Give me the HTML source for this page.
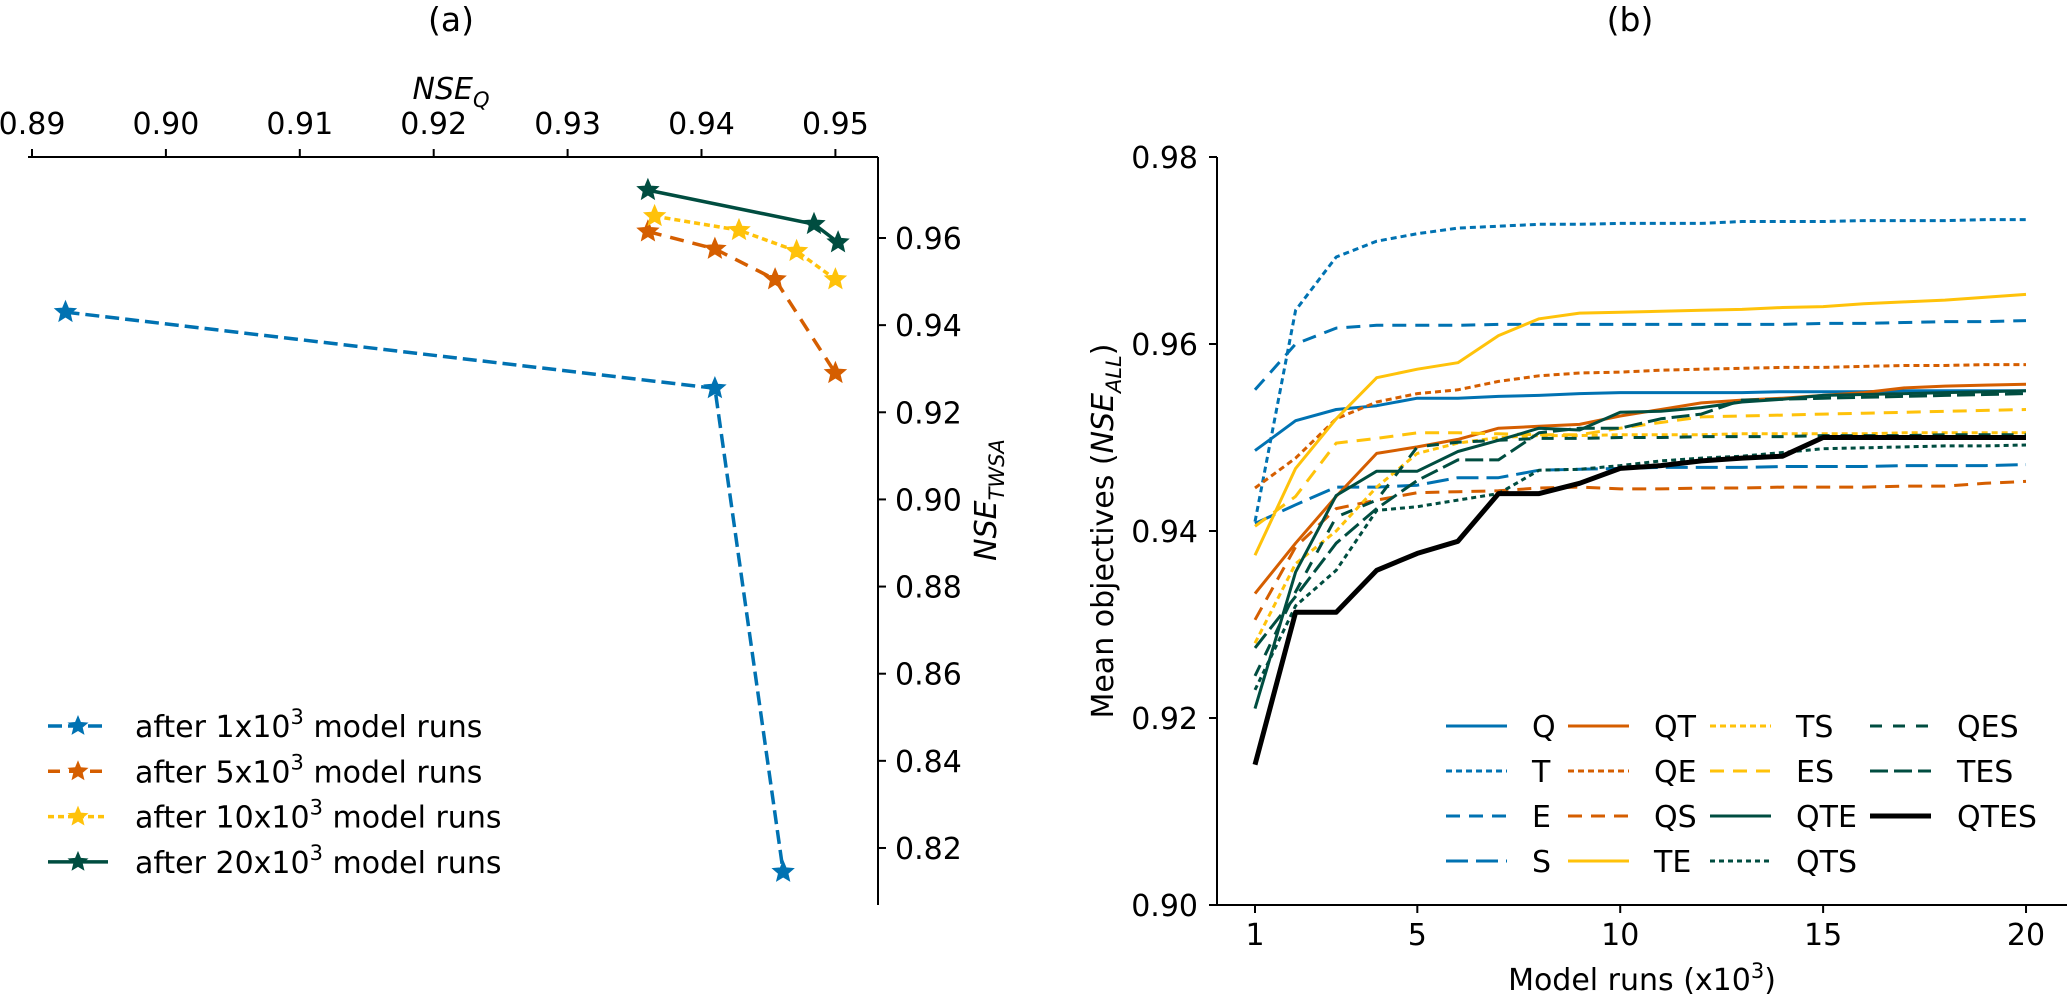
<!DOCTYPE html>
<html><head><meta charset="utf-8">
<style>
html,body{margin:0;padding:0;background:#fff;}
svg{display:block;font-family:"DejaVu Sans","Liberation Sans",sans-serif;}
</style></head>
<body>
<svg id="fig" width="2067" height="997" viewBox="0 0 2067 997" xmlns="http://www.w3.org/2000/svg">
  <g id="panelA">
    <text x="451" y="31" font-size="33" text-anchor="middle">(a)</text>
    <text x="451" y="99" font-size="30" text-anchor="middle" font-style="italic">NSE<tspan font-size="21" dy="8">Q</tspan></text>
    <g transform="translate(996,500) rotate(-90)">
      <text x="0" y="0" font-size="30" text-anchor="middle" font-style="italic">NSE<tspan font-size="21" dy="8">TWSA</tspan></text>
    </g>
  </g>
  <g id="panelB">
    <text x="1630" y="31" font-size="33" text-anchor="middle">(b)</text>
    <g transform="translate(1113,531) rotate(-90)">
      <text x="0" y="0" font-size="30" text-anchor="middle">Mean objectives (<tspan font-style="italic">NSE<tspan font-size="21" dy="8">ALL</tspan></tspan><tspan dy="-8">)</tspan></text>
    </g>
    <text x="1642" y="990" font-size="30" text-anchor="middle">Model runs (x10<tspan font-size="21" dy="-12">3</tspan><tspan dy="12">)</tspan></text>
  </g>
</svg>
<script>
// ---------- Panel (a) data ----------
const aSeriesNames = ["after 1x10", "after 5x10", "after 10x10", "after 20x10"];
const aQ1 = [0.8925, 0.9410, 0.9461];
const aT1 = [0.9430, 0.9255, 0.8145];
const aQ5 = [0.9360, 0.9410, 0.9455, 0.9500];
const aT5 = [0.9615, 0.9575, 0.9505, 0.9290];
const aQ10 = [0.9365, 0.9428, 0.9471, 0.9500];
const aT10 = [0.9650, 0.9618, 0.9570, 0.9505];
const aQ20 = [0.9360, 0.9484, 0.9502];
const aT20 = [0.9710, 0.9632, 0.9590];
const aXTicks = [0.89, 0.90, 0.91, 0.92, 0.93, 0.94, 0.95];
const aYTicks = [0.82, 0.84, 0.86, 0.88, 0.90, 0.92, 0.94, 0.96];

// ---------- Panel (b) data ----------
const bRuns = [1,2,3,4,5,6,7,8,9,10,11,12,13,14,15,16,17,18,19,20];
const bQ    = [0.9486,0.9518,0.9530,0.9534,0.9542,0.9542,0.9544,0.9545,0.9547,0.9548,0.9548,0.9548,0.9548,0.9549,0.9549,0.9549,0.9550,0.9550,0.9550,0.9550];
const bT    = [0.9410,0.9636,0.9693,0.9710,0.9718,0.9724,0.9726,0.9728,0.9728,0.9729,0.9729,0.9729,0.9731,0.9731,0.9731,0.9732,0.9732,0.9732,0.9733,0.9733];
const bE    = [0.9551,0.9600,0.9617,0.9620,0.9620,0.9620,0.9621,0.9621,0.9621,0.9621,0.9621,0.9621,0.9621,0.9621,0.9622,0.9622,0.9623,0.9624,0.9624,0.9625];
const bS    = [0.9408,0.9428,0.9447,0.9447,0.9449,0.9457,0.9457,0.9465,0.9466,0.9467,0.9468,0.9468,0.9468,0.9469,0.9469,0.9469,0.9470,0.9470,0.9470,0.9471];
const bQT   = [0.9333,0.9387,0.9437,0.9483,0.9490,0.9498,0.9510,0.9512,0.9514,0.9523,0.9530,0.9537,0.9540,0.9542,0.9545,0.9548,0.9553,0.9555,0.9556,0.9557];
const bQE   = [0.9446,0.9478,0.9520,0.9538,0.9547,0.9551,0.9560,0.9566,0.9569,0.9570,0.9572,0.9573,0.9574,0.9575,0.9575,0.9576,0.9577,0.9577,0.9578,0.9578];
const bQS   = [0.9305,0.9383,0.9424,0.9433,0.9441,0.9442,0.9443,0.9446,0.9447,0.9445,0.9445,0.9446,0.9446,0.9447,0.9447,0.9447,0.9448,0.9448,0.9451,0.9453];
const bTE   = [0.9374,0.9467,0.9520,0.9564,0.9573,0.9580,0.9609,0.9627,0.9633,0.9634,0.9635,0.9636,0.9637,0.9639,0.9640,0.9643,0.9645,0.9647,0.9650,0.9653];
const bTS   = [0.9280,0.9365,0.9400,0.9447,0.9483,0.9494,0.9500,0.9502,0.9502,0.9503,0.9503,0.9503,0.9504,0.9504,0.9504,0.9504,0.9505,0.9505,0.9505,0.9505];
const bES   = [0.9405,0.9437,0.9494,0.9499,0.9505,0.9505,0.9504,0.9503,0.9503,0.9510,0.9516,0.9522,0.9523,0.9524,0.9525,0.9526,0.9527,0.9528,0.9529,0.9530];
const bQTE  = [0.9210,0.9356,0.9438,0.9464,0.9464,0.9485,0.9497,0.9510,0.9508,0.9527,0.9528,0.9532,0.9538,0.9541,0.9545,0.9546,0.9547,0.9548,0.9549,0.9550];
const bQTS  = [0.9230,0.9320,0.9358,0.9422,0.9426,0.9433,0.9440,0.9465,0.9466,0.9470,0.9475,0.9478,0.9480,0.9484,0.9488,0.9489,0.9490,0.9491,0.9491,0.9492];
const bQES  = [0.9245,0.9335,0.9415,0.9433,0.9490,0.9495,0.9497,0.9499,0.9499,0.9500,0.9500,0.9501,0.9501,0.9501,0.9502,0.9502,0.9502,0.9503,0.9503,0.9503];
const bTES  = [0.9275,0.9330,0.9387,0.9424,0.9454,0.9476,0.9476,0.9505,0.9510,0.9510,0.9520,0.9525,0.9540,0.9541,0.9542,0.9543,0.9544,0.9545,0.9546,0.9547];
const bQTES = [0.9150,0.9313,0.9313,0.9358,0.9376,0.9389,0.9440,0.9440,0.9451,0.9467,0.9470,0.9475,0.9478,0.9480,0.9500,0.9500,0.9500,0.9500,0.9500,0.9500];
const bXTicks = [1, 5, 10, 15, 20];
const bYTicks = [0.90, 0.92, 0.94, 0.96, 0.98];

const NS = "http://www.w3.org/2000/svg";
const pA = document.getElementById("panelA");
const pB = document.getElementById("panelB");
function mk(tag, attrs, parent) {
  const e = document.createElementNS(NS, tag);
  for (const k in attrs) e.setAttribute(k, attrs[k]);
  parent.appendChild(e);
  return e;
}

// ---------- Panel (a) axes ----------
const axL = 28, axR = 878, axT = 157, axB = 905;
function ax(v) { return 32 + (v - 0.89) * 13390; }
function ay(v) { return 238 + (0.96 - v) * 4357; }

const aTop = mk("line", {x1: axL, y1: axT, x2: axR, y2: axT, stroke: "#000", "stroke-width": 2}, pA);


const aRight = mk("line", {x1: axR, y1: axT, x2: axR, y2: axB, stroke: "#000", "stroke-width": 2}, pA);



aXTicks.forEach(v => {
  const x = ax(v);
  const t = mk("line", {x1: x, y1: axT, x2: x, y2: axT - 8, stroke: "#000", "stroke-width": 2}, pA);
  
  
  const l = mk("text", {x: x, y: 134, "font-size": 30, "text-anchor": "middle"}, pA);
  l.textContent = v.toFixed(2);
  
  
});
aYTicks.forEach(v => {
  const y = ay(v);
  const t = mk("line", {x1: axR, y1: y, x2: axR + 8, y2: y, stroke: "#000", "stroke-width": 2}, pA);
  
  
  const l = mk("text", {x: 895, y: y + 11, "font-size": 30}, pA);
  l.textContent = v.toFixed(2);
  
  
});

function starPts(cx, cy, R) {
  const r = R * 0.45, pts = [];
  for (let i = 0; i < 10; i++) {
    const ang = -Math.PI / 2 + i * Math.PI / 5;
    const rr = i % 2 ? r : R;
    pts.push((cx + rr * Math.cos(ang)).toFixed(1) + "," + (cy + rr * Math.sin(ang)).toFixed(1));
  }
  return pts.join(" ");
}

const aSeries = [
  {q: aQ1, t: aT1, color: "#0072B2", dash: "14 6", ldash: "14 6", name: "1x10"},
  {q: aQ5, t: aT5, color: "#D55E00", dash: "14 9", ldash: "12 9", name: "5x10"},
  {q: aQ10, t: aT10, color: "#FFC20A", dash: "6 4", ldash: "6 4", name: "10x10"},
  {q: aQ20, t: aT20, color: "#004D40", dash: "none", ldash: "none", name: "20x10"}
];
aSeries.forEach((s, i) => {
  const g = mk("g", {}, pA);
  
  
  const pts = s.q.map((q, j) => ax(q).toFixed(1) + "," + ay(s.t[j]).toFixed(1)).join(" ");
  const pl = mk("polyline", {points: pts, fill: "none", stroke: s.color, "stroke-width": 3.5, "stroke-dasharray": s.dash}, g);
  
  
  s.q.forEach((q, j) => {
    const st = mk("polygon", {points: starPts(ax(q), ay(s.t[j]), 11), fill: s.color, stroke: s.color, "stroke-width": 1}, g);
    
    
  });
  const ly = 726 + i * 45.3;
  const le = mk("g", {}, pA);
  
  
  mk("line", {x1: 48, y1: ly, x2: 108, y2: ly, stroke: s.color, "stroke-width": 3.5, "stroke-dasharray": s.ldash}, le);
  mk("polygon", {points: starPts(78, ly, 11), fill: s.color}, le);
  const tx = mk("text", {x: 135, y: ly + 11, "font-size": 30}, le);
  tx.textContent = aSeriesNames[i];
  const sup = mk("tspan", {"font-size": 21, dy: -13}, tx);
  sup.textContent = "3";
  const rest = mk("tspan", {dy: 13}, tx);
  rest.textContent = " model runs";
});

// ---------- Panel (b) axes ----------
const bxL = 1217, bxR = 2067, byT = 157, byB = 905;
function bx(v) { return 1255 + (v - 1) * 40.58; }
function by(v) { return byB - (v - 0.90) * 9350; }

const bLeft = mk("line", {x1: bxL, y1: byT, x2: bxL, y2: byB, stroke: "#000", "stroke-width": 2}, pB);


const bBot = mk("line", {x1: bxL, y1: byB, x2: bxR, y2: byB, stroke: "#000", "stroke-width": 2}, pB);



bYTicks.forEach(v => {
  const y = by(v);
  const t = mk("line", {x1: bxL - 8, y1: y, x2: bxL, y2: y, stroke: "#000", "stroke-width": 2}, pB);
  
  
  const l = mk("text", {x: 1198, y: y + 11, "font-size": 30, "text-anchor": "end"}, pB);
  l.textContent = v.toFixed(2);
  
  
});
bXTicks.forEach(v => {
  const x = bx(v);
  const t = mk("line", {x1: x, y1: byB, x2: x, y2: byB + 8, stroke: "#000", "stroke-width": 2}, pB);
  
  
  const l = mk("text", {x: x, y: 945, "font-size": 30, "text-anchor": "middle"}, pB);
  l.textContent = String(v);
  
  
});

const BLUE = "#0072B2", ORG = "#D55E00", YEL = "#FFC20A", GRN = "#004D40";
const bSeries = [
  {n: "Q", d: bQ, c: BLUE, dash: "none", w: 3},
  {n: "T", d: bT, c: BLUE, dash: "6 4", w: 3},
  {n: "E", d: bE, c: BLUE, dash: "14 9", w: 3},
  {n: "S", d: bS, c: BLUE, dash: "22 8", w: 3},
  {n: "QT", d: bQT, c: ORG, dash: "none", w: 3},
  {n: "QE", d: bQE, c: ORG, dash: "6 4", w: 3},
  {n: "QS", d: bQS, c: ORG, dash: "14 9", w: 3},
  {n: "TE", d: bTE, c: YEL, dash: "none", w: 3},
  {n: "TS", d: bTS, c: YEL, dash: "6 4", w: 3},
  {n: "ES", d: bES, c: YEL, dash: "14 9", w: 3},
  {n: "QTE", d: bQTE, c: GRN, dash: "none", w: 3},
  {n: "QTS", d: bQTS, c: GRN, dash: "5 4", w: 3},
  {n: "QES", d: bQES, c: GRN, dash: "12 11", w: 3},
  {n: "TES", d: bTES, c: GRN, dash: "18 6", w: 3},
  {n: "QTES", d: bQTES, c: "#000", dash: "none", w: 5}
];
const lgCols = [[1446, 1532], [1568, 1654], [1710, 1796], [1870, 1957]];
bSeries.forEach((s, i) => {
  const pts = s.d.map((v, j) => bx(bRuns[j]).toFixed(1) + "," + by(v).toFixed(1)).join(" ");
  const pl = mk("polyline", {points: pts, fill: "none", stroke: s.c, "stroke-width": s.w, "stroke-dasharray": s.dash, "stroke-linejoin": "round"}, pB);
  
  
  const col = Math.floor(i / 4), row = i % 4;
  const ly = 726 + row * 45;
  const le = mk("g", {}, pB);
  
  
  mk("line", {x1: lgCols[col][0], y1: ly, x2: lgCols[col][0] + 61, y2: ly, stroke: s.c, "stroke-width": s.w, "stroke-dasharray": s.dash}, le);
  const tx = mk("text", {x: lgCols[col][1], y: ly + 11, "font-size": 30}, le);
  tx.textContent = s.n;
});
</script>
</body></html>
